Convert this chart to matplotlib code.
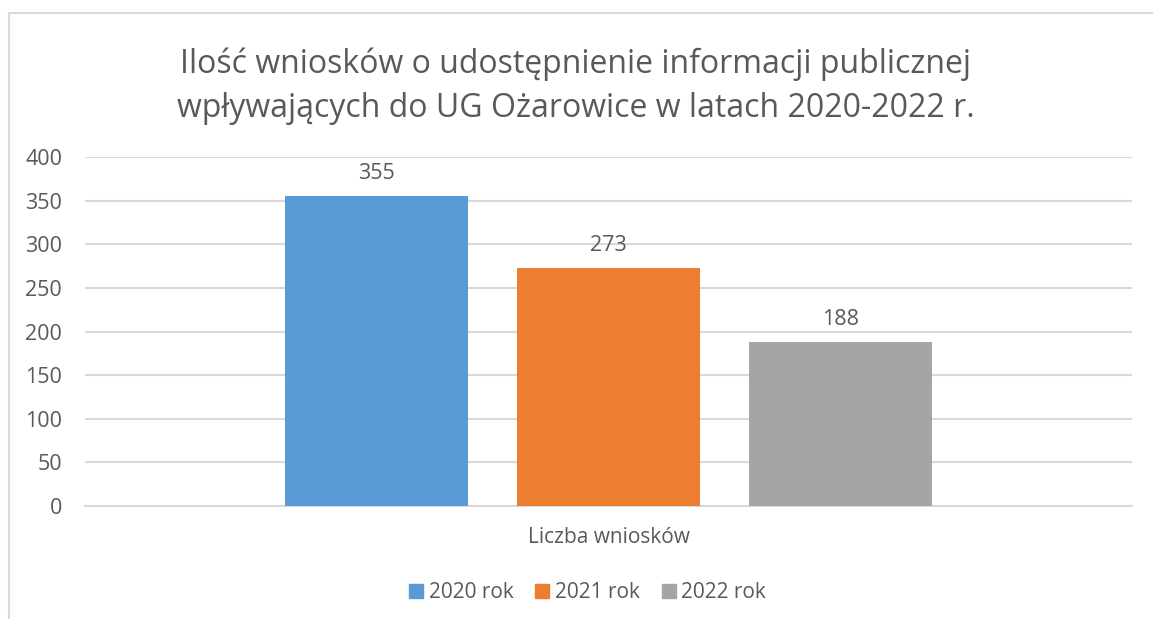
import matplotlib
matplotlib.use("Agg")
import matplotlib.pyplot as plt
from matplotlib.lines import Line2D
import numpy as np

plt.rcParams['font.family'] = ['Open Sans', 'DejaVu Sans']

title = "Ilość wniosków o udostępnienie informacji publicznej\nwpływających do UG Ożarowice w latach 2020-2022 r."
categories = ["Liczba wniosków"]
series_names = ["2020 rok", "2021 rok", "2022 rok"]
series_values = [355, 273, 188]
colors = ["#5B9BD5", "#ED7D31", "#A5A5A5"]
y_ticks = [0, 50, 100, 150, 200, 250, 300, 350, 400]

W, H = 1153, 619
fig = plt.figure(figsize=(W / 100, H / 100), dpi=100)
fig.patch.set_facecolor("white")

txt = "#595959"
grid = "#D9D9D9"

ax = fig.add_axes([85 / W, 1 - 506 / H, (1132 - 85) / W, (506 - 157) / H])
step = 0.2216
width = 0.175
for i, (name, val, c) in enumerate(zip(series_names, series_values, colors)):
    x = 0 + (i - 1) * step
    b = ax.bar([x], [val], width=width, color=c, label=name, zorder=3)
    ax.bar_label(b, labels=[str(val)], padding=8.5, fontsize=15.5, color=txt)

ax.set_xlim(-0.5, 0.5)
ax.set_ylim(0, 400)
ax.set_yticks(y_ticks)
ax.set_yticklabels([str(t) for t in y_ticks], fontsize=15.5, color=txt)
ax.set_xticks([0])
ax.set_xticklabels(categories, fontsize=15, color=txt)
ax.tick_params(axis='both', length=0)
ax.tick_params(axis='y', pad=16.5)
ax.tick_params(axis='x', pad=15)
ax.yaxis.grid(True, color=grid, linewidth=1.5, zorder=0)
for s in ["top", "right", "left"]:
    ax.spines[s].set_visible(False)
ax.spines["bottom"].set_color(grid)
ax.spines["bottom"].set_linewidth(1.5)
ax.set_axisbelow(True)

fig.text(576 / W, 1 - 86 / H, title, ha='center', va='center', fontsize=23,
         color=txt, linespacing=1.45)

handles = [Line2D([0], [0], marker='s', linestyle='none', markersize=10,
                  markerfacecolor=c, markeredgecolor=c) for c in colors]
fig.legend(handles, series_names, loc='center', bbox_to_anchor=(588 / W, 1 - 593 / H),
           ncol=3, frameon=False, fontsize=15, labelcolor=txt, handlelength=0.6,
           handletextpad=0.3, columnspacing=1.1)

# chart frame (left and top edges visible)
fig.add_artist(Line2D([8.5 / W, 8.5 / W], [0, 1 - 13 / H], transform=fig.transFigure,
                      color=grid, linewidth=1.5))
fig.add_artist(Line2D([8.5 / W, 1], [1 - 13 / H, 1 - 13 / H], transform=fig.transFigure,
                      color=grid, linewidth=1.5))

fig.savefig("out.png", dpi=100, facecolor="white")
